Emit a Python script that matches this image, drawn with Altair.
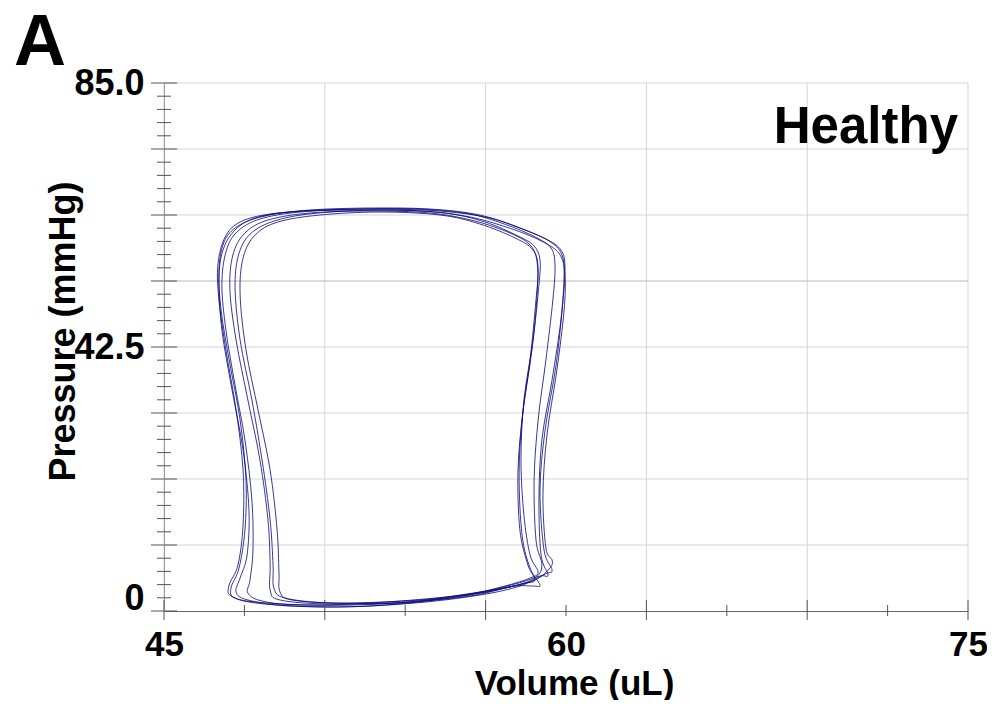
import altair as alt
import pandas as pd

# ---- PV loop data (Volume in uL, Pressure in mmHg) ----
VOLUME_1 = [59.33, 59.07, 58.99, 59.10, 59.48, 59.81, 59.93, 59.85, 59.48, 58.66, 57.16, 55.30, 53.06, 50.82, 48.96, 47.84, 47.28, 47.01, 47.05, 47.31, 47.69, 47.95, 47.95, 47.76, 47.43, 47.50, 48.40, 50.82, 53.81, 56.42, 58.10, 59.03]
PRESSURE_1 = [5.80, 9.01, 17.87, 27.53, 37.19, 46.84, 54.09, 57.31, 59.24, 61.01, 63.26, 64.39, 64.71, 64.55, 63.91, 62.62, 60.21, 55.70, 50.06, 42.02, 32.36, 22.70, 13.84, 7.40, 4.19, 2.41, 1.45, 0.97, 1.61, 2.74, 4.35, 5.63]

VOLUME_2 = [59.48, 59.18, 59.03, 59.22, 59.63, 59.89, 59.96, 59.81, 59.33, 58.28, 56.79, 54.93, 52.69, 50.45, 48.77, 47.76, 47.24, 47.05, 47.13, 47.43, 47.84, 48.06, 48.02, 47.80, 47.50, 47.65, 48.77, 51.38, 54.37, 56.79, 58.28, 59.22]
PRESSURE_2 = [6.60, 9.82, 19.48, 29.14, 39.60, 50.06, 55.70, 58.11, 59.72, 61.65, 63.75, 64.71, 64.87, 64.55, 63.59, 61.98, 59.40, 54.89, 48.45, 40.41, 30.75, 21.09, 13.04, 6.92, 3.70, 2.09, 1.13, 0.64, 1.29, 2.58, 4.02, 5.96]

VOLUME_3 = [59.10, 58.88, 58.81, 58.96, 59.25, 59.51, 59.59, 59.44, 58.92, 57.90, 56.42, 54.55, 52.31, 50.07, 48.58, 47.72, 47.31, 47.16, 47.31, 47.65, 48.02, 48.28, 48.32, 48.21, 48.13, 48.66, 50.07, 53.06, 56.04, 57.91, 58.84]
PRESSURE_3 = [7.40, 11.43, 21.09, 30.75, 40.41, 50.06, 55.70, 58.44, 60.05, 61.98, 63.91, 64.71, 64.71, 64.23, 63.10, 61.01, 57.79, 52.48, 45.23, 36.38, 27.53, 17.87, 9.82, 4.99, 2.90, 1.61, 0.97, 1.13, 2.41, 3.86, 5.31]

VOLUME_4 = [58.84, 58.58, 58.28, 58.21, 58.40, 58.73, 58.92, 58.92, 58.66, 57.91, 56.60, 54.93, 52.69, 50.45, 48.88, 48.02, 47.57, 47.46, 47.69, 48.13, 48.58, 48.88, 48.96, 48.96, 49.33, 51.19, 54.18, 56.42, 57.72, 58.47]
PRESSURE_4 = [4.99, 7.40, 13.04, 22.70, 32.36, 42.02, 50.87, 56.18, 58.92, 60.85, 62.78, 64.07, 64.39, 64.07, 62.94, 60.85, 57.31, 51.67, 43.62, 33.97, 24.31, 14.65, 7.40, 3.38, 1.77, 1.13, 1.45, 2.41, 3.70, 4.51]

VOLUME_5 = [59.03, 58.66, 58.36, 58.25, 58.36, 58.66, 58.88, 58.96, 58.77, 58.10, 56.79, 55.30, 53.06, 50.82, 49.25, 48.40, 47.95, 47.84, 48.06, 48.51, 48.96, 49.22, 49.29, 49.33, 49.78, 51.57, 54.55, 56.79, 58.10, 58.77]
PRESSURE_5 = [4.19, 6.92, 12.23, 21.89, 30.75, 40.41, 50.06, 55.21, 58.11, 60.05, 62.30, 63.75, 64.23, 63.75, 62.62, 60.53, 56.83, 50.87, 42.02, 32.36, 22.70, 13.04, 6.28, 3.06, 1.77, 1.29, 1.77, 3.06, 4.02, 4.02]

VOLUME_6 = [59.48, 59.25, 59.14, 59.29, 59.66, 59.93, 59.96, 59.78, 59.22, 58.10, 56.42, 54.55, 51.94, 49.70, 48.40, 47.65, 47.20, 47.05, 47.16, 47.54, 47.95, 48.17, 48.10, 47.84, 47.69, 48.13, 49.70, 52.69, 55.67, 57.72, 58.84, 59.40]
PRESSURE_6 = [8.21, 10.14, 18.67, 28.33, 38.80, 48.45, 54.09, 57.31, 59.24, 61.33, 63.43, 64.39, 64.55, 64.23, 63.26, 61.33, 58.11, 53.28, 45.23, 35.58, 25.92, 16.26, 9.01, 5.31, 3.06, 1.77, 0.80, 0.80, 2.09, 3.70, 4.99, 6.92]

VOLUME_7 = [58.96, 58.66, 58.43, 58.32, 58.43, 58.77, 58.99, 59.03, 58.81, 58.21, 56.98, 55.49, 53.43, 51.19, 49.51, 48.40, 47.84, 47.65, 47.84, 48.28, 48.66, 48.96, 49.07, 49.10, 49.51, 51.19, 53.81, 56.23, 57.72, 58.66]
PRESSURE_7 = [6.28, 9.01, 15.45, 24.31, 33.97, 43.62, 52.48, 56.50, 58.76, 60.37, 62.62, 64.07, 64.55, 64.23, 63.26, 61.33, 58.11, 52.48, 43.62, 33.97, 24.31, 14.65, 7.40, 3.70, 2.09, 1.29, 1.29, 2.58, 4.02, 5.31]

LOOPS = [
    (VOLUME_1, PRESSURE_1), (VOLUME_2, PRESSURE_2), (VOLUME_3, PRESSURE_3),
    (VOLUME_4, PRESSURE_4), (VOLUME_5, PRESSURE_5), (VOLUME_6, PRESSURE_6),
    (VOLUME_7, PRESSURE_7),
]

# ---- axis structure ----
X_DOMAIN = [45, 75]
Y_DOMAIN = [0, 85]
X_LABELS = [45, 60, 75]
X_GRID = [45, 51, 57, 63, 69, 75]
X_MAJOR_TICKS = [45, 51, 57, 63, 69, 75]
X_MINOR_TICKS = [48, 54, 60, 66, 72]
Y_LABELS = [0, 42.5, 85]
Y_GRID = [10.625, 21.25, 31.875, 42.5, 63.75, 74.375, 85]
Y_GRID_DARK = [53.125]
Y_MAJOR_TICKS = [0, 10.625, 21.25, 31.875, 42.5, 53.125, 63.75, 74.375, 85]
Y_MINOR_TICKS = [2.125, 4.25, 6.375, 8.5, 12.75, 14.875, 17, 19.125, 23.375, 25.5,
                 27.625, 29.75, 34, 36.125, 38.25, 40.375, 44.625, 46.75, 48.875, 51,
                 55.25, 57.375, 59.5, 61.625, 65.875, 68, 70.125, 72.25, 76.5, 78.625,
                 80.75, 82.875]

PANEL_LABEL = "A"
GROUP_LABEL = "Healthy"
X_TITLE = "Volume (uL)"
Y_TITLE = "Pressure (mmHg)"

rows = []
for k, (vs, ps) in enumerate(LOOPS):
    for i, (v, p) in enumerate(zip(vs, ps)):
        rows.append({"loop": k, "idx": i, "Volume": v, "Pressure": p})
df = pd.DataFrame(rows)

FONT = "Liberation Sans"
W, H = 804, 528

xscale = alt.Scale(domain=X_DOMAIN, nice=False, zero=False)
yscale = alt.Scale(domain=Y_DOMAIN, nice=False, zero=False)

x_axis = alt.Axis(
    values=X_LABELS,
    format="d",
    grid=False,
    ticks=False, tickSize=0,
    domain=True, domainColor="#666666", domainWidth=1,
    labelFont=FONT, labelFontWeight="bold", labelFontSize=35, labelColor="black",
    labelPadding=16, labelFlush=False, labelOverlap=False, labelBound=False,
    title=X_TITLE, titleFont=FONT, titleFontWeight="bold", titleFontSize=35,
    titleColor="black", titleX=410, titleY=83, titleBaseline="alphabetic",
    titleAlign="center",
)

y_axis = alt.Axis(
    values=Y_LABELS,
    labelExpr="datum.value === 0 ? '0' : format(datum.value, '.1f')",
    labelOffset={"condition": {"test": "datum.value === 0", "value": -13}, "value": 0},
    grid=False,
    ticks=False, tickSize=0,
    domain=True, domainColor="#666666", domainWidth=1,
    labelFont=FONT, labelFontWeight="bold", labelFontSize=36, labelColor="black",
    labelPadding=20, labelFlush=False, labelOverlap=False, labelBound=False,
    title=Y_TITLE, titleFont=FONT, titleFontWeight="bold", titleFontSize=36,
    titleColor="black", titleX=-90, titleY=248, titleBaseline="alphabetic",
    titleAlign="center", titleAngle=270,
)

GRID_COLOR = "#d4d4d4"
TICK_COLOR = "#555555"

# Only the grid layers carry explicit axes; other layers leave axis unspecified
# (axis=None in any layer would disable the shared axis).
x_grid = alt.Chart(pd.DataFrame({"Volume": X_GRID})).mark_rule(
    color=GRID_COLOR, strokeWidth=1
).encode(x=alt.X("Volume:Q", scale=xscale, axis=x_axis))

y_grid = alt.Chart(pd.DataFrame({"Pressure": Y_GRID})).mark_rule(
    color=GRID_COLOR, strokeWidth=1
).encode(y=alt.Y("Pressure:Q", scale=yscale, axis=y_axis))

y_grid_dark = alt.Chart(pd.DataFrame({"Pressure": Y_GRID_DARK})).mark_rule(
    color="#b8b8b8", strokeWidth=1
).encode(y=alt.Y("Pressure:Q", scale=yscale))

loops = alt.Chart(df).mark_line(
    interpolate="cardinal-closed", color="#0a0a7c", strokeWidth=0.9, opacity=0.9
).encode(
    x=alt.X("Volume:Q", scale=xscale),
    y=alt.Y("Pressure:Q", scale=yscale),
    detail="loop:N",
    order="idx:Q",
)

y_major = alt.Chart(pd.DataFrame({"Pressure": Y_MAJOR_TICKS})).mark_rule(
    color=TICK_COLOR, strokeWidth=1
).encode(y=alt.Y("Pressure:Q", scale=yscale), x=alt.value(-13), x2=alt.value(13))

y_minor = alt.Chart(pd.DataFrame({"Pressure": Y_MINOR_TICKS})).mark_rule(
    color=TICK_COLOR, strokeWidth=1
).encode(y=alt.Y("Pressure:Q", scale=yscale), x=alt.value(-7), x2=alt.value(7))

x_major = alt.Chart(pd.DataFrame({"Volume": X_MAJOR_TICKS})).mark_rule(
    color=TICK_COLOR, strokeWidth=1
).encode(x=alt.X("Volume:Q", scale=xscale), y=alt.value(H - 11), y2=alt.value(H + 9))

x_minor = alt.Chart(pd.DataFrame({"Volume": X_MINOR_TICKS})).mark_rule(
    color=TICK_COLOR, strokeWidth=1
).encode(x=alt.X("Volume:Q", scale=xscale), y=alt.value(H - 6), y2=alt.value(H + 5))

group_text = alt.Chart(pd.DataFrame({"t": [GROUP_LABEL]})).mark_text(
    font=FONT, fontWeight="bold", fontSize=51, color="black", align="right", baseline="alphabetic"
).encode(text="t:N", x=alt.value(794), y=alt.value(60))

panel_text = alt.Chart(pd.DataFrame({"t": [PANEL_LABEL]})).mark_text(
    font=FONT, fontWeight="bold", fontSize=72, color="black", align="left", baseline="alphabetic"
).encode(text="t:N", x=alt.value(-150), y=alt.value(-18))

chart = alt.layer(
    x_grid, y_grid, y_grid_dark, loops, y_major, y_minor, x_major, x_minor, group_text, panel_text
).properties(
    width=W, height=H,
    autosize=alt.AutoSizeParams(type="none"),
    padding={"left": 156, "top": 75, "right": 19, "bottom": 89},
    background="white",
).configure_view(stroke=None)

chart.save("out.html", embed_options={"renderer": "svg", "actions": False})
